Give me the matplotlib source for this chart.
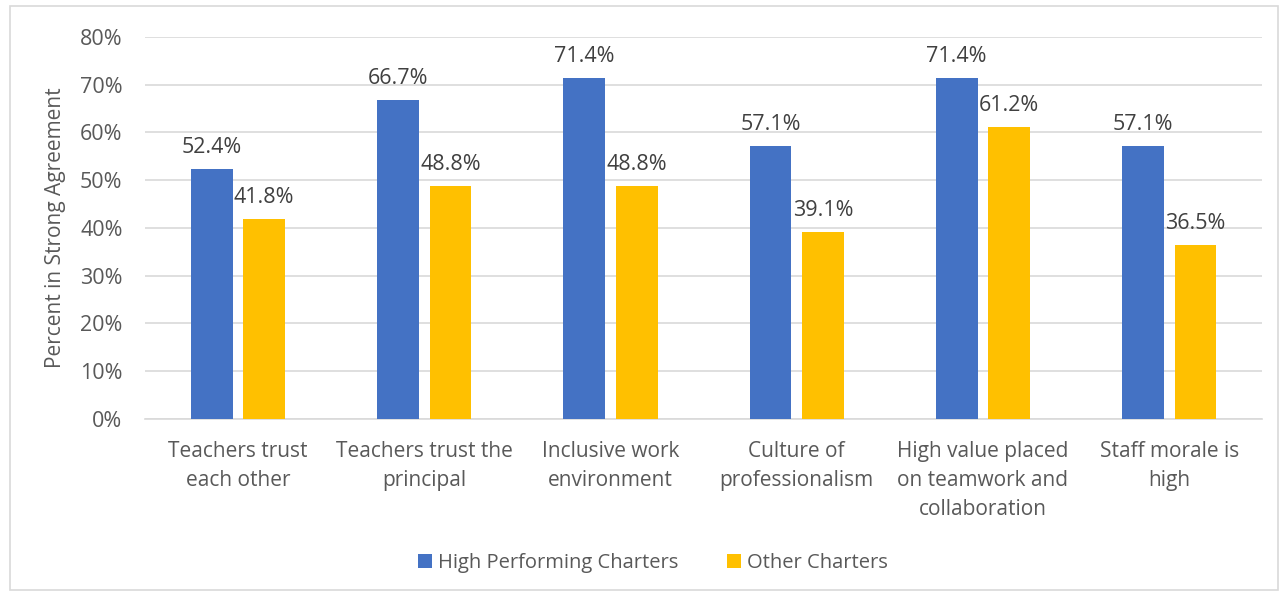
import matplotlib.pyplot as plt
from matplotlib.patches import Rectangle
import numpy as np

plt.rcParams['font.family'] = ['Open Sans', 'DejaVu Sans']

categories = ['Teachers trust\neach other', 'Teachers trust the\nprincipal',
              'Inclusive work\nenvironment', 'Culture of\nprofessionalism',
              'High value placed\non teamwork and\ncollaboration', 'Staff morale is\nhigh']
high_perf = [52.4, 66.7, 71.4, 57.1, 71.4, 57.1]
other = [41.8, 48.8, 48.8, 39.1, 61.2, 36.5]
series_names = ['High Performing Charters', 'Other Charters']
colors = ['#4472C4', '#FFC000']
txt = '#595959'

fig = plt.figure(figsize=(12.86, 5.96), dpi=100)
ax = fig.add_axes([0.1126, 0.297, 0.869, 0.641])

x = np.arange(len(categories))
w = 0.224
off = 0.141
b1 = ax.bar(x - off, high_perf, w, color=colors[0], label=series_names[0], zorder=3)
b2 = ax.bar(x + off, other, w, color=colors[1], label=series_names[1], zorder=3)

for bars in (b1, b2):
	for r in bars:
		ax.annotate('%.1f%%' % r.get_height(), (r.get_x() + r.get_width() / 2, r.get_height()),
		            xytext=(0, 8), textcoords='offset points', ha='center', va='bottom',
		            fontsize=15.5, color='#404040')

ax.set_xlim(-0.5, len(categories) - 0.5)
ax.set_ylim(0, 80)
ax.set_yticks(range(0, 81, 10))
ax.set_yticklabels(['%d%%' % v for v in range(0, 81, 10)])
ax.set_xticks(x)
ax.set_xticklabels(categories, linespacing=1.5)
ax.tick_params(axis='both', length=0, labelsize=15.5, colors=txt)
ax.tick_params(axis='x', labelsize=15, pad=16)
ax.tick_params(axis='y', pad=16)
ax.grid(axis='y', color='#D9D9D9', linewidth=1.2, zorder=0)
for s in ['top', 'right', 'left']:
	ax.spines[s].set_visible(False)
ax.spines['bottom'].set_color('#D9D9D9')
ax.spines['bottom'].set_linewidth(1.2)
ax.set_ylabel('Percent in Strong Agreement', fontsize=15, color=txt, labelpad=10)

fig.legend(loc='center', bbox_to_anchor=(0.508, 0.056), ncol=2, frameon=False,
           fontsize=14.5, labelcolor=txt, handlelength=0.7, handleheight=0.7,
           handletextpad=0.3, columnspacing=2.4)

fig.patches.append(Rectangle((10 / 1286, 6 / 596), 1268 / 1286, 584 / 596,
                             transform=fig.transFigure, fill=False,
                             edgecolor='#D9D9D9', linewidth=1.2))

fig.savefig('out.png', dpi=100)
